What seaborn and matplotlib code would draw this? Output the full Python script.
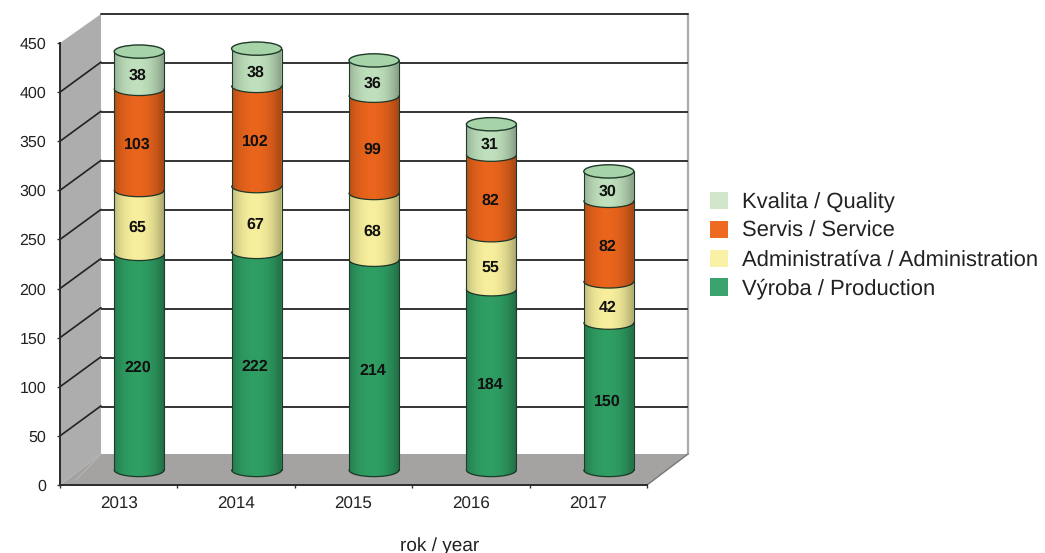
import numpy as np
import matplotlib
matplotlib.use('Agg')
import matplotlib.pyplot as plt
from matplotlib.patches import Ellipse, Polygon, Patch
from matplotlib.path import Path
import seaborn as sns

roky = ['2013', '2014', '2015', '2016', '2017']
vyroba = [220, 222, 214, 184, 150]
administrativa = [65, 67, 68, 55, 42]
servis = [103, 102, 99, 82, 82]
kvalita = [38, 38, 36, 31, 30]
y_ticks = [0, 50, 100, 150, 200, 250, 300, 350, 400, 450]

nazvy = ['Výroba / Production', 'Administratíva / Administration',
         'Servis / Service', 'Kvalita / Quality']
farby = ['#2F9E63', '#F6EE9C', '#E9641C', '#BFE0BC']
farby_legenda = ['#3BA36E', '#F9F1A5', '#EE6A20', '#D2E6CC']

W, H = 1045, 553
sns.set_style('white')
plt.rcParams['font.family'] = ['Liberation Sans', 'DejaVu Sans']
plt.rcParams['text.hinting'] = 'no_hinting'
plt.rcParams['text.hinting_factor'] = 1

fig = plt.figure(figsize=(W / 100, H / 100), dpi=100)


def px_axes(l, t, r, b, **kw):
    return fig.add_axes([l / W, 1 - b / H, (r - l) / W, (b - t) / H], **kw)


# steny grafu v pixeloch
bg = px_axes(0, 0, W, H, zorder=0)
bg.set_xlim(0, W)
bg.set_ylim(H, 0)
bg.axis('off')
bg.add_patch(Polygon([(60, 43), (101, 14), (101, 454), (60, 485)], fc='#AEADAD', ec='none'))
bg.add_patch(Polygon([(60, 485), (647, 485), (688, 454), (101, 454)], fc='#A5A3A2', ec='none'))
bg.plot([101, 76], [454, 480], color='#B4B3B2', lw=0.8)
bg.plot([688, 688], [14, 454], color='#ABABAB', lw=1.6)
bg.plot([101, 688], [14, 14], color='#333333', lw=1.4)
bg.plot([647, 688], [485, 454], color='#777777', lw=1)
for v in y_ticks[1:-1]:
    y = 485 - v * 442 / 450
    bg.plot([60, 101], [y, y - 30], color='#222222', lw=1.2)

# zadna stena - mriezka
back = px_axes(101, 14, 688, 456, zorder=1)
back.patch.set_alpha(0)
back.set_ylim(0, 450)
back.set_yticks(y_ticks[1:-1])
back.set_xticks([])
back.tick_params(left=False, labelleft=False)
back.grid(axis='y', color='#333333', lw=1.4)
sns.despine(ax=back, left=True, bottom=True, right=True, top=True)

# predna rovina - osi
front = px_axes(60, 43, 647, 485, zorder=2)
front.patch.set_alpha(0)
front.set_ylim(0, 450)
front.set_xlim(-0.5, 4.5)
front.set_yticks(y_ticks)
front.set_xticks(np.arange(-0.5, 5))
front.set_xticklabels([])
front.set_xticks(range(5), roky, minor=True)
front.tick_params(axis='x', which='minor', length=0, pad=8.5, labelsize=12, labelcolor='#222222')
front.tick_params(axis='x', which='major', length=2.5, width=1, color='#333333', bottom=True)
front.tick_params(axis='y', length=2, width=1, color='#333333', left=True, labelsize=11.8,
                  labelcolor='#222222', pad=8)
sns.despine(ax=front)
for s in ['left', 'bottom']:
    front.spines[s].set_color('#2A2A2A')
    front.spines[s].set_linewidth(1.4)

# valce v strednej rovine
ax = px_axes(80.5, 28, 667.5, 470 + 20 * 442 / 450, zorder=3)
ax.patch.set_alpha(0)
sirka = 0.426
elipsa_v = 13.5
serie = [vyroba, administrativa, servis, kvalita]
spodok = np.zeros(5)
for i, (hodnoty, farba) in enumerate(zip(serie, farby)):
    sns.barplot(x=roky, y=hodnoty, bottom=spodok, width=sirka, color=farba, saturation=1,
                linewidth=0, ax=ax, zorder=3 + i)
    for k in range(5):
        ax.add_patch(Ellipse((k, spodok[k]), sirka, elipsa_v, fc=farba, ec='none', zorder=3 + i))
        t = np.linspace(np.pi, 2 * np.pi, 40)
        ax.plot(k + sirka / 2 * np.cos(t), spodok[k] + elipsa_v / 2 * np.sin(t),
                color='#1F3A2A', lw=0.9, zorder=3 + i + 0.5)
    spodok = spodok + np.array(hodnoty)

tien = np.zeros((1, 64, 4))
u = np.linspace(-1, 1, 64)
tien[0, :, 3] = 0.26 * np.abs(u + 0.1) ** 2.2
for k, vrch in enumerate(spodok):
    t = np.linspace(np.pi, 2 * np.pi, 40)
    obrys = np.column_stack([
        np.r_[k - sirka / 2, k + sirka / 2 * np.cos(t), k + sirka / 2],
        np.r_[vrch, elipsa_v / 2 * np.sin(t), vrch],
    ])
    im = ax.imshow(tien, extent=(k - sirka / 2, k + sirka / 2, -10, vrch), aspect='auto', zorder=9)
    im.set_clip_path(Path(obrys), ax.transData)
    for strana in (-1, 1):
        ax.plot([k + strana * sirka / 2] * 2, [0, vrch], color='#1F3A2A', lw=0.8, zorder=10)
    ax.add_patch(Ellipse((k, vrch), sirka, elipsa_v, fc='#A6D3A8', ec='#1F3A2A', lw=1, zorder=11))

spodok = np.zeros(5)
for hodnoty in serie:
    for k, v in enumerate(hodnoty):
        ax.annotate(str(v), (k, spodok[k] + v / 2), xytext=(-1, -4), textcoords='offset points',
                    ha='center', va='center', fontsize=11.2, fontweight='bold', color='#111111', zorder=12)
    spodok = spodok + np.array(hodnoty)

ax.set_xlim(-0.5, 4.5)
ax.set_ylim(-20, 450)
ax.axis('off')

handles = [Patch(fc=f, ec='none') for f in farby_legenda[::-1]]
fig.legend(handles, nazvy[::-1], loc='center left', bbox_to_anchor=(710 / W, 1 - 245.5 / H),
           frameon=False, fontsize=16.1, handlelength=0.8, handleheight=0.8, handletextpad=0.62,
           labelspacing=0.36, borderpad=0, borderaxespad=0, labelcolor='#222222')

fig.text(439.5 / W, 1 - 551 / H, 'rok / year', ha='center', va='baseline', fontsize=13.5, color='#222222')

fig.savefig('out.png', dpi=100)
